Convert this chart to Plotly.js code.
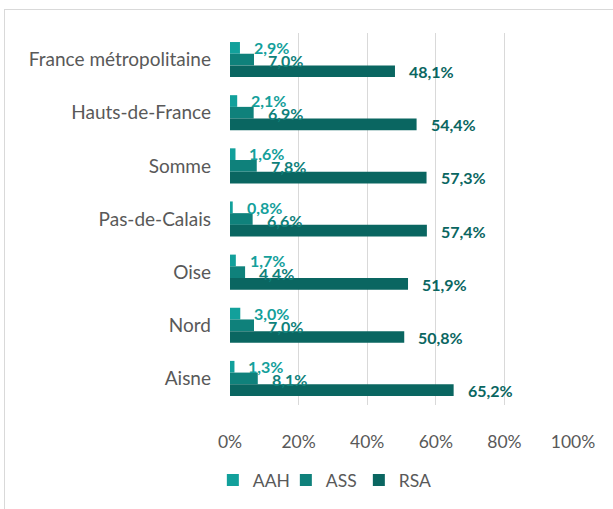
<!DOCTYPE html>
<html>
<head>
<meta charset="utf-8">
<script src="https://cdn.plot.ly/plotly-3.0.1.min.js"></script>
<style>
html,body{margin:0;padding:0;background:#fff;overflow:hidden;}
#frame{position:absolute;left:4px;top:9px;width:700px;height:600px;border:1px solid #d9d9d9;box-sizing:border-box;}
#chart{position:absolute;left:0;top:0;width:613px;height:509px;}
</style>
</head>
<body>
<div id="frame"></div>
<div id="chart"></div>
<script>
const categories = ['France métropolitaine','Hauts-de-France','Somme','Pas-de-Calais','Oise','Nord','Aisne'];
const seriesNames = ['AAH','ASS','RSA'];
const aah = [2.9, 2.1, 1.6, 0.8, 1.7, 3.0, 1.3];
const ass = [7.0, 6.9, 7.8, 6.6, 4.4, 7.0, 8.1];
const rsa = [48.1, 54.4, 57.3, 57.4, 51.9, 50.8, 65.2];
const xTickVals = [0, 20, 40, 60, 80, 100];
const xTickText = ['0%','20%','40%','60%','80%','100%'];

const colors = ['#12a09b', '#0f817b', '#0a6661'];
const labelColors = ['#14a09b', '#0f817b', '#0a6661'];
const yShifts = [12, -1, -12];
const values = [aah, ass, rsa];
const FONT = 'Lato, "Open Sans", sans-serif';

const traces = values.map((vals, i) => ({
  type: 'bar',
  orientation: 'h',
  name: seriesNames[i],
  y: categories,
  x: vals,
  marker: {color: colors[i], line: {width: 0}},
  hoverinfo: 'none'
}));

const fmt = v => v.toFixed(1).replace('.', ',') + '%';
const annotations = [];
values.forEach((vals, i) => {
  vals.forEach((v, j) => {
    annotations.push({
      xref: 'x', yref: 'y', x: v, y: categories[j],
      text: '<b>' + fmt(v) + '</b>',
      showarrow: false, xanchor: 'left', yanchor: 'middle',
      xshift: 12, yshift: yShifts[i],
      font: {family: FONT, size: 16, color: labelColors[i]}
    });
  });
});

const layout = {
  width: 613, height: 509,
  margin: {l: 230, r: 40, t: 33, b: 104, autoexpand: false},
  paper_bgcolor: 'rgba(0,0,0,0)',
  plot_bgcolor: 'rgba(0,0,0,0)',
  barmode: 'group',
  bargap: 0.34,
  bargroupgap: 0,
  separators: ',.',
  font: {family: FONT, size: 17, color: '#595959'},
  xaxis: {
    range: [0, 100],
    tickvals: xTickVals, ticktext: xTickText,
    showgrid: true, gridcolor: '#d9d9d9', gridwidth: 1,
    zeroline: false, showline: false, ticks: '',
    ticklabelstandoff: 24,
    tickfont: {family: FONT, size: 17.5, color: '#595959'},
    fixedrange: true
  },
  yaxis: {
    autorange: 'reversed',
    showgrid: false, zeroline: false, showline: false, ticks: '',
    ticklabelstandoff: 18,
    tickfont: {family: FONT, size: 19, color: '#595959'},
    fixedrange: true
  },
  showlegend: true,
  legend: {
    orientation: 'h', x: -0.05, xanchor: 'left',
    yref: 'container', y: 1 - 462 / 509, yanchor: 'top',
    entrywidth: 28, entrywidthmode: 'pixels',
    font: {family: FONT, size: 17.5, color: '#595959'},
    traceorder: 'normal'
  },
  annotations: annotations
};

Plotly.newPlot('chart', traces, layout, {displayModeBar: false, staticPlot: true});
</script>
</body>
</html>
